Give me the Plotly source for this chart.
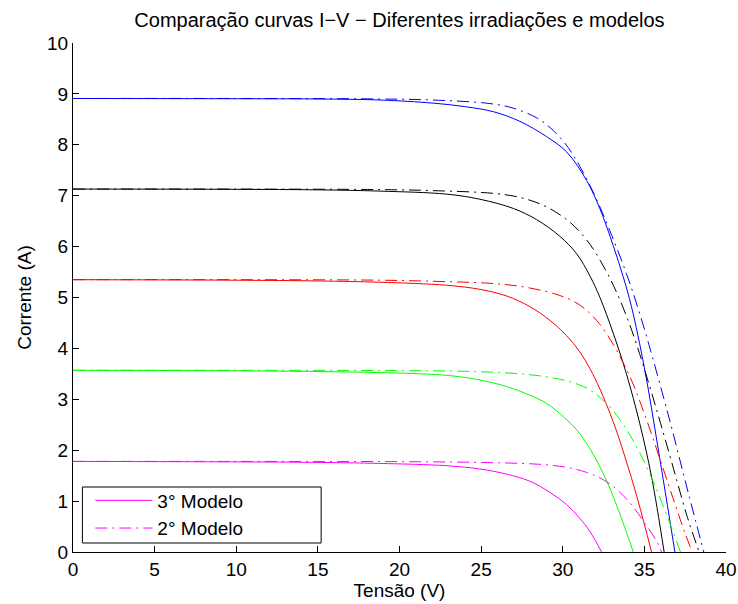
import plotly.graph_objects as go

# ---- data (V, A) ----
blue_m3_v = [0, 10, 15, 18.8, 22, 24, 25.75, 27.38, 29.01, 30.24, 31.46, 32.28, 33.09, 33.7, 34.21, 35.0, 35.85, 36.87]
blue_m3_i = [8.91, 8.905, 8.90, 8.88, 8.82, 8.75, 8.65, 8.46, 8.16, 7.86, 7.30, 6.74, 6.02, 5.41, 4.82, 3.62, 2.02, 0]
blue_m2_v = [0, 10, 18.8, 22, 25.54, 26.97, 28.4, 29.22, 30.03, 30.64, 31.46, 32.07, 33.0, 33.9, 34.6, 35.3, 36.5, 37.7, 38.64]
blue_m2_i = [8.91, 8.91, 8.90, 8.88, 8.81, 8.72, 8.53, 8.34, 8.07, 7.80, 7.33, 6.93, 6.22, 5.47, 4.80, 4.05, 2.65, 1.15, 0]

black_m3_v = [0, 10, 15, 18.8, 22.9, 24.93, 26.97, 28.4, 29.83, 30.85, 31.67, 32.28, 33.09, 33.9, 34.72, 35.45, 36.21]
black_m3_i = [7.13, 7.125, 7.115, 7.09, 7.03, 6.93, 6.75, 6.53, 6.20, 5.86, 5.42, 5.0, 4.30, 3.50, 2.52, 1.46, 0]
black_m2_v = [0, 10, 18.8, 22, 25.95, 27.58, 29.01, 30.24, 31.05, 31.87, 32.69, 33.3, 33.91, 34.52, 35.3, 36.0, 36.8, 37.6, 38.35]
black_m2_i = [7.13, 7.13, 7.12, 7.10, 7.04, 6.95, 6.78, 6.53, 6.29, 5.95, 5.50, 5.10, 4.63, 4.08, 3.28, 2.52, 1.62, 0.72, 0]

red_m3_v = [0, 10, 15, 18.8, 22.9, 24.93, 26.56, 27.99, 29.22, 30.24, 31.05, 31.67, 32.28, 33.09, 33.8, 34.6, 35.44]
red_m3_i = [5.35, 5.34, 5.325, 5.30, 5.24, 5.16, 5.03, 4.82, 4.55, 4.25, 3.93, 3.60, 3.20, 2.56, 1.88, 1.02, 0]
red_m2_v = [0, 10, 18.8, 23, 25.5, 27.38, 29.42, 30.64, 31.46, 32.28, 33.09, 33.7, 34.31, 35.13, 35.95, 36.76, 37.48, 37.93]
red_m2_i = [5.35, 5.35, 5.34, 5.31, 5.28, 5.22, 5.08, 4.93, 4.75, 4.47, 4.08, 3.72, 3.30, 2.60, 1.83, 1.05, 0.38, 0]

green_m3_v = [0, 10, 15, 18.8, 22.9, 24.93, 26.56, 27.99, 29.01, 30.03, 30.85, 31.67, 32.28, 32.9, 33.6, 34.32]
green_m3_i = [3.57, 3.56, 3.545, 3.525, 3.47, 3.38, 3.25, 3.08, 2.92, 2.66, 2.40, 2.03, 1.67, 1.24, 0.66, 0]
green_m2_v = [0, 10, 18.8, 24, 26.97, 28.6, 30.03, 31.05, 31.87, 32.89, 33.5, 34.11, 34.72, 35.54, 36.4, 37.21]
green_m2_i = [3.57, 3.57, 3.565, 3.55, 3.51, 3.46, 3.38, 3.28, 3.14, 2.85, 2.60, 2.30, 1.95, 1.38, 0.70, 0]

mag_m3_v = [0, 10, 15, 18.8, 22.9, 24.93, 26.56, 27.99, 29.22, 30.24, 31.05, 31.67, 32.38]
mag_m3_i = [1.78, 1.77, 1.76, 1.74, 1.695, 1.63, 1.53, 1.39, 1.17, 0.93, 0.66, 0.40, 0]
mag_m2_v = [0, 10, 20, 24.93, 28.2, 29.42, 30.44, 31.46, 32.28, 33.09, 33.7, 34.31, 35.13, 35.75, 36.05]
mag_m2_i = [1.78, 1.78, 1.775, 1.76, 1.73, 1.70, 1.65, 1.565, 1.455, 1.29, 1.11, 0.89, 0.52, 0.21, 0]

x_ticks = [0, 5, 10, 15, 20, 25, 30, 35, 40]
y_ticks = [0, 1, 2, 3, 4, 5, 6, 7, 8, 9, 10]
legend_names = ["3° Modelo", "2° Modelo"]

FONT = "Liberation Sans, Arial, Helvetica, sans-serif"
FS = 19
DASHDOT = "12px,5px,2px,5px"
SMOOTH = 1.0

series = [
    (blue_m3_v, blue_m3_i, blue_m2_v, blue_m2_i, "#0000ff"),
    (black_m3_v, black_m3_i, black_m2_v, black_m2_i, "#000000"),
    (red_m3_v, red_m3_i, red_m2_v, red_m2_i, "#ff0000"),
    (green_m3_v, green_m3_i, green_m2_v, green_m2_i, "#00ff00"),
]

fig = go.Figure()
for v3, i3, v2, i2, col in series:
    fig.add_trace(go.Scatter(x=v3, y=i3, mode="lines", showlegend=False,
                             line=dict(color=col, width=1, shape="spline", smoothing=SMOOTH)))
    fig.add_trace(go.Scatter(x=v2, y=i2, mode="lines", showlegend=False,
                             line=dict(color=col, width=1, dash=DASHDOT, shape="spline", smoothing=SMOOTH)))

fig.add_trace(go.Scatter(x=mag_m3_v, y=mag_m3_i, mode="lines", name=legend_names[0],
                         line=dict(color="#ff00ff", width=1, shape="spline", smoothing=SMOOTH)))
fig.add_trace(go.Scatter(x=mag_m2_v, y=mag_m2_i, mode="lines", name=legend_names[1],
                         line=dict(color="#ff00ff", width=1, dash=DASHDOT, shape="spline", smoothing=SMOOTH)))

axis_common = dict(showgrid=False, zeroline=False, showline=True, linecolor="#000000", linewidth=1,
                   ticks="inside", ticklen=6, tickcolor="#000000", tickwidth=1, automargin=False,
                   tickfont=dict(family=FONT, size=FS, color="#000000"))

# legend frame (decoration) in plot-area fractions
fig.add_shape(type="rect", xref="paper", yref="paper", layer="above",
              x0=0.0144, x1=0.380, y0=0.0177, y1=0.1277,
              line=dict(color="#000000", width=1), fillcolor="white")

fig.update_layout(
    width=738, height=604,
    margin=dict(l=73, r=12, t=43, b=52),
    paper_bgcolor="white", plot_bgcolor="white",
    font=dict(family=FONT, size=FS, color="#000000"),
    title=dict(text="Comparação curvas I−V − Diferentes irradiações e modelos",
               x=0.5, xref="paper", y=1 - 20 / 604, yref="container", yanchor="middle",
               font=dict(family=FONT, size=20, color="#000000")),
    xaxis=dict(range=[0, 40], tickvals=x_ticks, ticktext=[str(t) for t in x_ticks],
               title=dict(text="Tensão (V)", standoff=2, font=dict(family=FONT, size=FS)), **axis_common),
    yaxis=dict(range=[0, 10], tickvals=y_ticks, ticktext=[str(t) for t in y_ticks],
               title=dict(text="Corrente (A)", standoff=10, font=dict(family=FONT, size=FS)), **axis_common),
    legend=dict(x=0.0266, y=0.0737, xanchor="left", yanchor="middle",
                bgcolor="rgba(0,0,0,0)", borderwidth=0,
                font=dict(family=FONT, size=FS, color="#000000"),
                itemwidth=57, tracegroupgap=0),
)

fig.write_html("out.html")
